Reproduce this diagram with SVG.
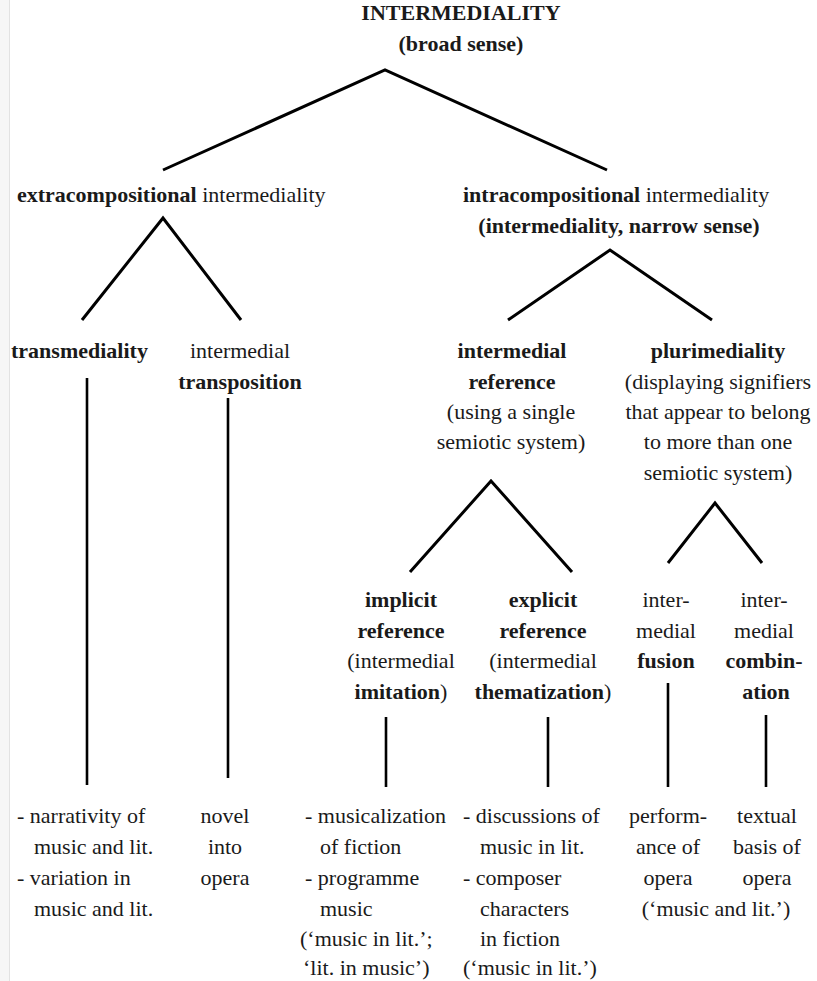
<svg xmlns="http://www.w3.org/2000/svg" width="817" height="981" viewBox="0 0 817 981">
<style>
text{font-family:"Liberation Serif","Times New Roman",Times,Tinos,"Noto Serif","DejaVu Serif",serif;font-size:22px;fill:#1a1a1a}
.m{text-anchor:middle}
.b{font-weight:bold}
.ln{stroke:#000;stroke-width:3;fill:none;stroke-linecap:butt;stroke-linejoin:miter}
.v{stroke:#000;stroke-width:2.6;fill:none}
</style>
<rect x="0" y="0" width="817" height="981" fill="#fff"/>
<rect x="0" y="0" width="9" height="981" fill="#f6f6f6"/>
<line x1="9.5" y1="0" x2="9.5" y2="981" stroke="#e2e2e2" stroke-width="1"/>

<g id="connectors">
<polyline class="ln" points="163,170 385,70 607,170"/>
<polyline class="ln" points="82,320 163,218 241,320"/>
<polyline class="ln" points="508,320 610,250 712,320"/>
<polyline class="ln" points="410,572 491,481 572,572"/>
<polyline class="ln" points="668,563 715,503 762,563"/>
<line class="v" x1="87" y1="378" x2="87" y2="785"/>
<line class="v" x1="228" y1="398" x2="228" y2="778"/>
<line class="v" x1="386" y1="717" x2="386" y2="787"/>
<line class="v" x1="548" y1="717" x2="548" y2="787"/>
<line class="v" x1="668" y1="683" x2="668" y2="787"/>
<line class="v" x1="766" y1="715" x2="766" y2="787"/>
</g>

<g id="root">
<text class="m b" x="461" y="20">INTERMEDIALITY</text>
<text class="m b" x="461" y="51">(broad sense)</text>
</g>

<g id="extra">
<text x="17" y="202"><tspan class="b">extracompositional</tspan> intermediality</text>
</g>

<g id="intra">
<text x="463" y="202"><tspan class="b">intracompositional</tspan> intermediality</text>
<text class="m b" x="619" y="233">(intermediality, narrow sense)</text>
</g>

<g id="transmediality">
<text class="b" x="11" y="358">transmediality</text>
</g>

<g id="transposition">
<text class="m" x="240" y="358">intermedial</text>
<text class="m b" x="240" y="389">transposition</text>
</g>

<g id="reference">
<text class="m b" x="512" y="358">intermedial</text>
<text class="m b" x="512" y="389">reference</text>
<text class="m" x="511" y="419">(using a single</text>
<text class="m" x="511" y="449">semiotic system)</text>
</g>

<g id="plurimediality">
<text class="m b" x="718" y="358">plurimediality</text>
<text class="m" x="718" y="389">(displaying signifiers</text>
<text class="m" x="718" y="419">that appear to belong</text>
<text class="m" x="718" y="449">to more than one</text>
<text class="m" x="718" y="480">semiotic system)</text>
</g>

<g id="implicit">
<text class="m b" x="401" y="607">implicit</text>
<text class="m b" x="401" y="638">reference</text>
<text class="m" x="401" y="668">(intermedial</text>
<text class="m" x="401" y="699"><tspan class="b">imitation</tspan>)</text>
</g>

<g id="explicit">
<text class="m b" x="543" y="607">explicit</text>
<text class="m b" x="543" y="638">reference</text>
<text class="m" x="543" y="668">(intermedial</text>
<text class="m" x="543" y="699"><tspan class="b">thematization</tspan>)</text>
</g>

<g id="fusion">
<text class="m" x="666" y="607">inter-</text>
<text class="m" x="666" y="638">medial</text>
<text class="m b" x="666" y="668">fusion</text>
</g>

<g id="combination">
<text class="m" x="764" y="607">inter-</text>
<text class="m" x="764" y="638">medial</text>
<text class="m b" x="764" y="668">combin-</text>
<text class="m b" x="766" y="699">ation</text>
</g>

<g id="ex-transmediality">
<text x="17" y="823">- narrativity of</text>
<text x="34" y="854">music and lit.</text>
<text x="17" y="885">- variation in</text>
<text x="34" y="916">music and lit.</text>
</g>

<g id="ex-transposition">
<text class="m" x="225" y="823">novel</text>
<text class="m" x="225" y="854">into</text>
<text class="m" x="225" y="885">opera</text>
</g>

<g id="ex-implicit">
<text x="305" y="823">- musicalization</text>
<text x="320" y="854">of fiction</text>
<text x="305" y="885">- programme</text>
<text x="320" y="916">music</text>
<text x="300" y="946">(‘music in lit.’;</text>
<text x="303" y="975">‘lit. in music’)</text>
</g>

<g id="ex-explicit">
<text x="463" y="823">- discussions of</text>
<text x="480" y="854">music in lit.</text>
<text x="463" y="885">- composer</text>
<text x="480" y="916">characters</text>
<text x="480" y="946">in fiction</text>
<text x="463" y="975">(‘music in lit.’)</text>
</g>

<g id="ex-fusion">
<text class="m" x="668" y="823">perform-</text>
<text class="m" x="668" y="854">ance of</text>
<text class="m" x="668" y="885">opera</text>
</g>

<g id="ex-combination">
<text class="m" x="767" y="823">textual</text>
<text class="m" x="767" y="854">basis of</text>
<text class="m" x="767" y="885">opera</text>
<text class="m" x="716" y="916">(‘music and lit.’)</text>
</g>
</svg>
